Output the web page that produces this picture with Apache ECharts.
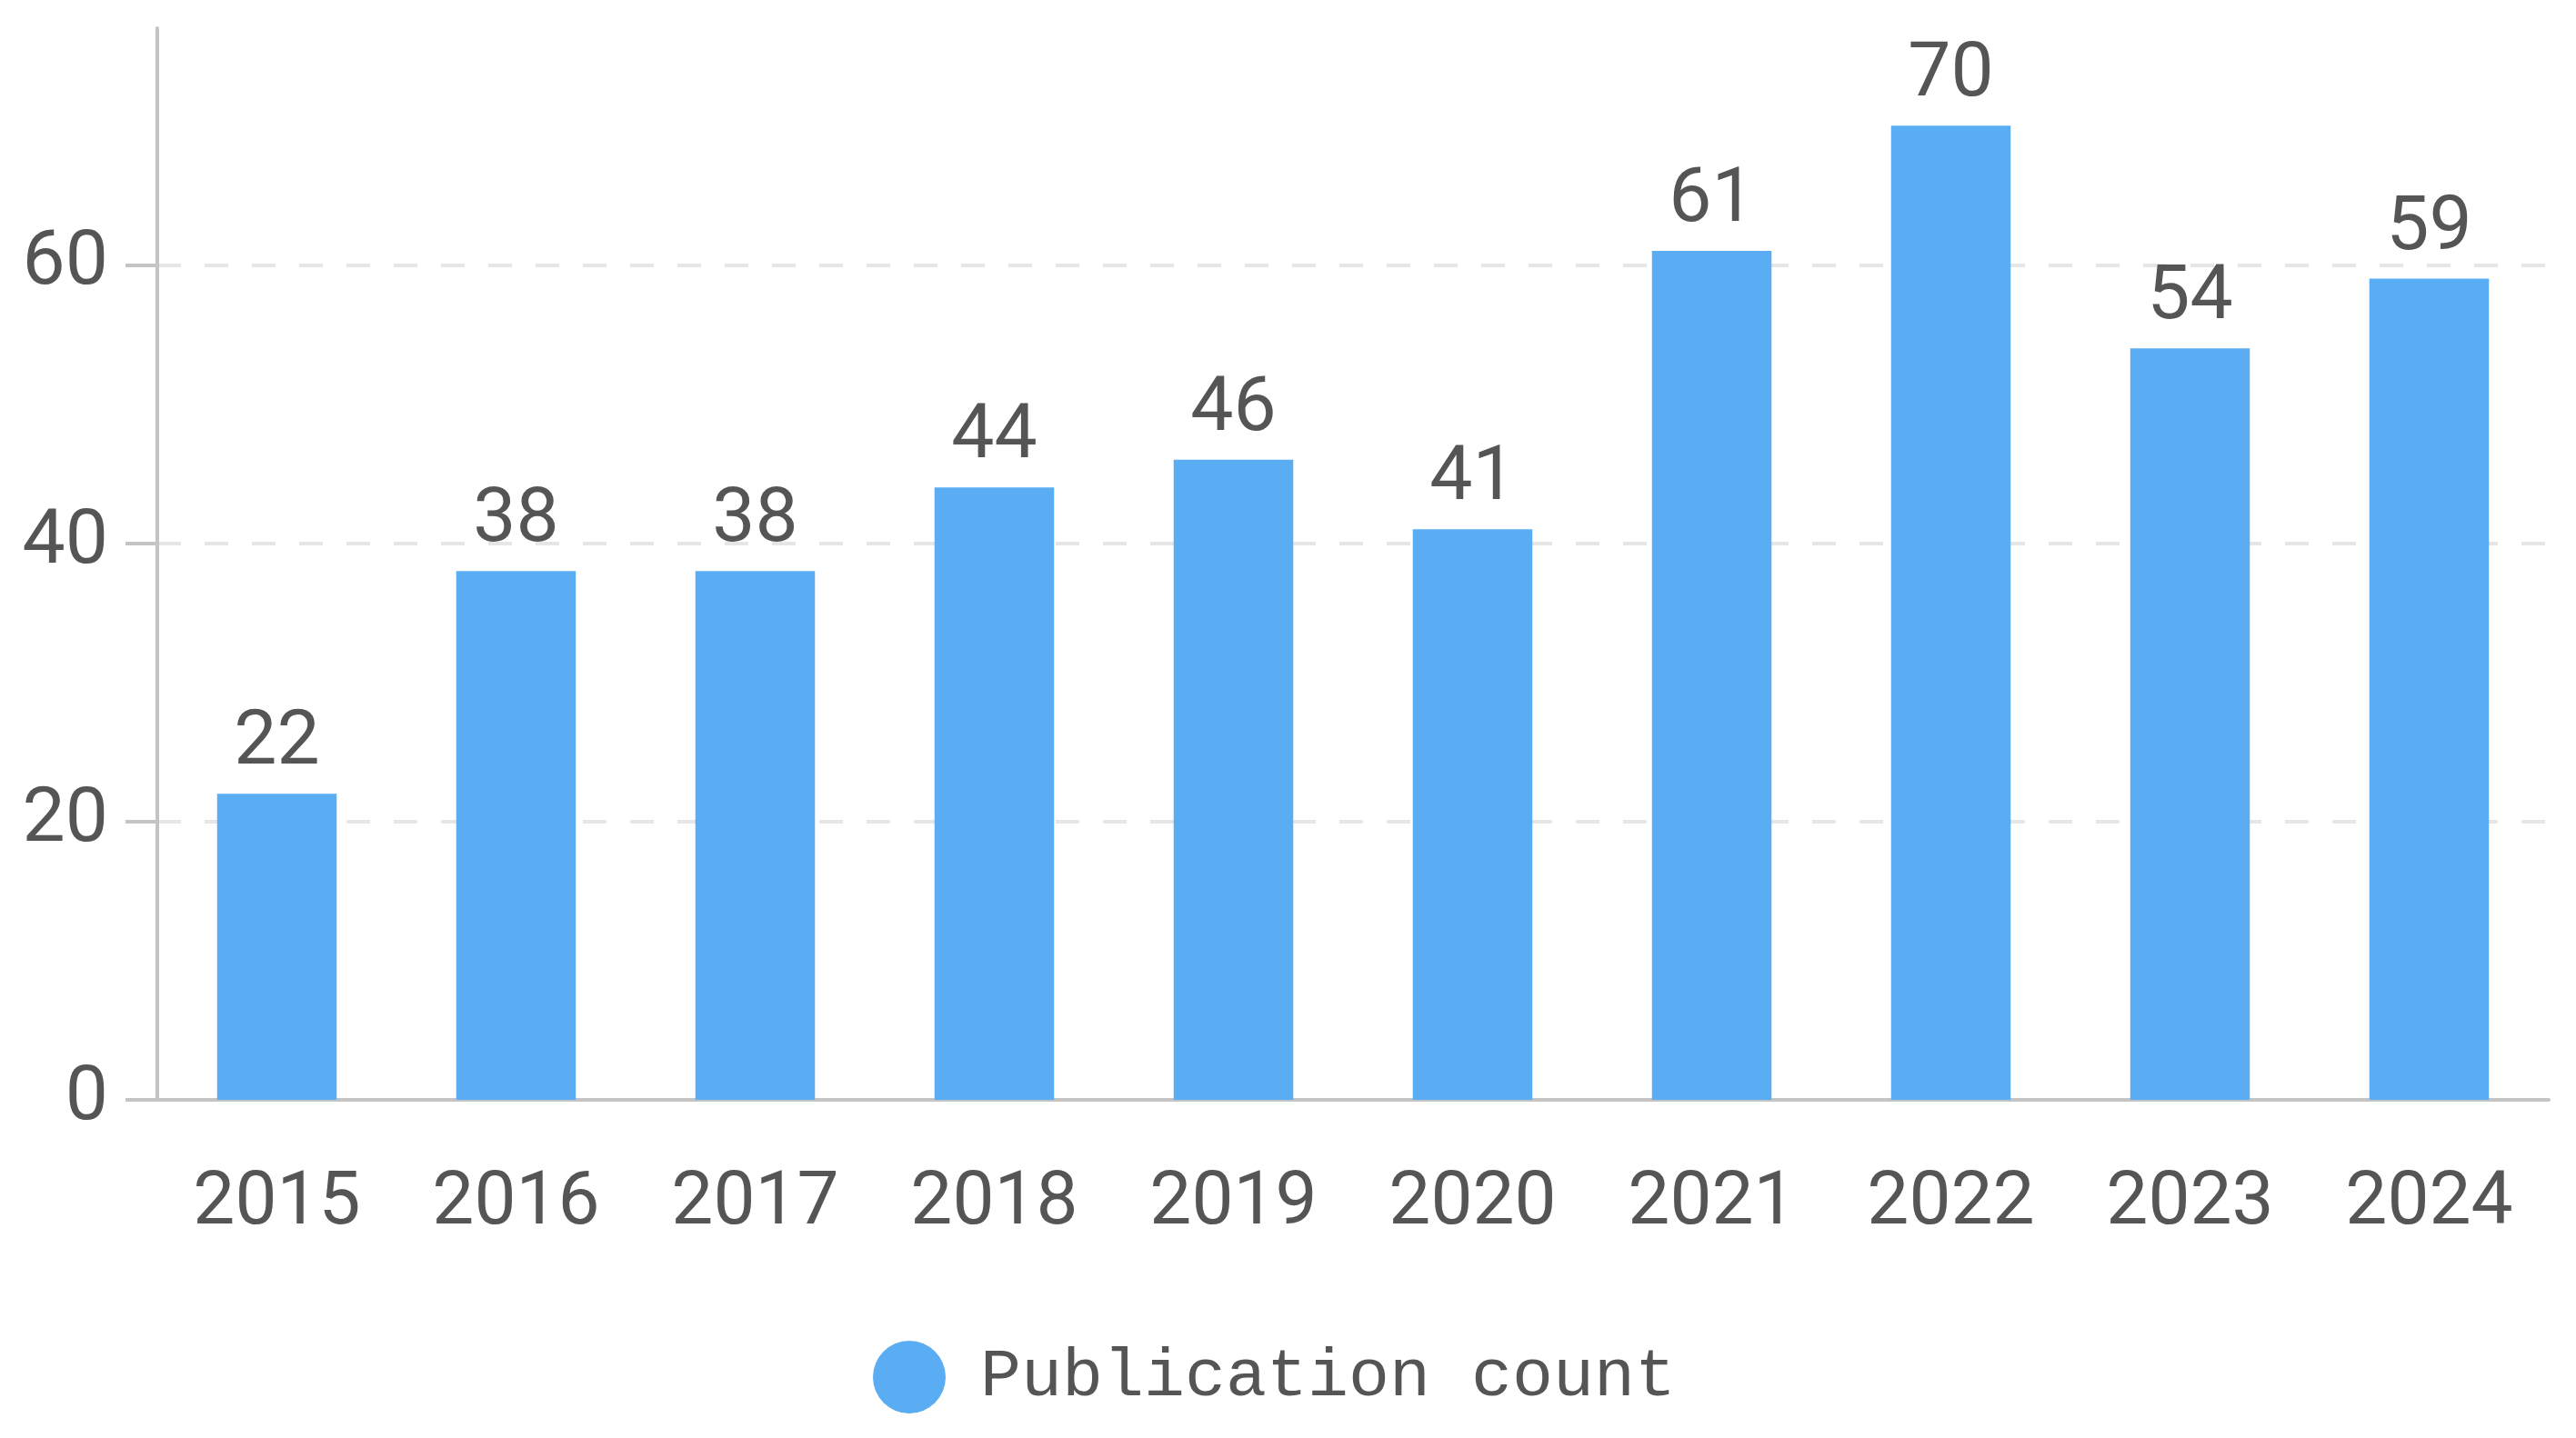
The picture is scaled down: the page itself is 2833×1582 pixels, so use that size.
<!DOCTYPE html>
<html>
<head>
<meta charset="utf-8">
<script src="https://cdn.jsdelivr.net/npm/echarts@6/dist/echarts.min.js"></script>
<style>
  html, body { margin: 0; padding: 0; background: #fff; }
  #chart { width: 2833px; height: 1582px; }
</style>
</head>
<body>
<div id="chart"></div>
<script>
// years on the x axis
var years = ['2015', '2016', '2017', '2018', '2019', '2020', '2021', '2022', '2023', '2024']
// publications per year
var counts = [22, 38, 38, 44, 46, 41, 61, 70, 54, 59]
var seriesName = 'Publication count'

var chart = echarts.init(document.getElementById('chart'))
chart.setOption({
  animation: false,
  color: ['#5aadf3'],
  grid: {
    left: 173,
    right: 30,
    top: 31,
    bottom: 372
  },
  legend: {
    data: [seriesName],
    left: 955,
    bottom: 22,
    icon: 'circle',
    itemWidth: 80,
    itemHeight: 80,
    textStyle: {
      fontFamily: 'Liberation Mono',
      fontSize: 75,
      color: '#555',
      padding: [0, 0, 0, 33]
    }
  },
  xAxis: {
    type: 'category',
    data: years,
    axisLine: { lineStyle: { color: '#c4c4c4', width: 4 } },
    axisTick: { alignWithLabel: true, length: 32, lineStyle: { color: '#c4c4c4', width: 4 } },
    axisLabel: {
      margin: 74,
      fontSize: 82,
      color: '#555',
      fontFamily: 'Roboto'
    }
  },
  yAxis: {
    type: 'value',
    min: 0,
    max: 77,
    interval: 20,
    axisLine: { show: true, lineStyle: { color: '#c4c4c4', width: 4 } },
    axisTick: { show: true, length: 35, lineStyle: { color: '#c4c4c4', width: 4 } },
    axisLabel: {
      margin: 54,
      fontSize: 84,
      color: '#555',
      fontFamily: 'Roboto',
      showMaxLabel: false
    },
    splitLine: {
      showMaxLine: false,
      lineStyle: { color: '#e6e6e6', width: 4, type: [26, 26] }
    }
  },
  series: [
    {
      name: seriesName,
      type: 'bar',
      barWidth: '50%',
      data: counts,
      label: {
        show: true,
        position: 'top',
        distance: 12,
        fontSize: 84,
        color: '#555',
        fontFamily: 'Roboto'
      }
    }
  ]
})
</script>
</body>
</html>
